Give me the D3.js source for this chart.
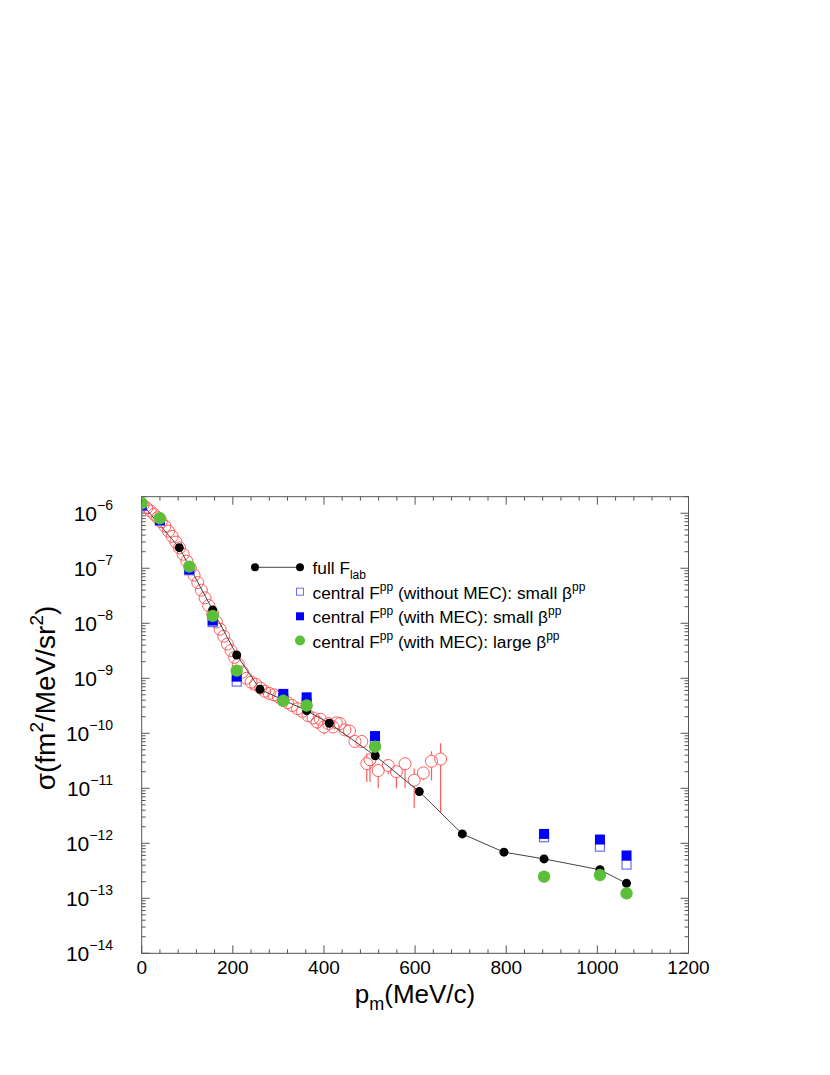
<!DOCTYPE html>
<html><head><meta charset="utf-8">
<script src="https://cdn.jsdelivr.net/npm/d3@7"></script>
<style>body{margin:0;background:#fff}svg{display:block}text{font-family:"Liberation Sans",Arial,Helvetica,sans-serif;fill:#000}</style>
</head><body><svg id="c" width="830" height="1075"></svg>
<script>
// ---- data ----
const xTickValues = [0, 200, 400, 600, 800, 1000, 1200];
const yDecades = [-14, -13, -12, -11, -10, -9, -8, -7, -6];

// experimental data (open red circles): p_m, sigma, lower, upper (null = no visible bar)
const dataP = [3,11,19,27,35,43,51,59,67,75,83,91,99,107,115,123,131,139,147,156,164,172,180,188,196,204,212,221,230,240,250,261,270,280,290,300,310,320,330,342,353,365,376,385,392,400,410,420,427,435,446,456,468,483,494,501,519,541,559,578,598,618,636,656];
const dataSigma = [1.40e-6,1.25e-6,1.10e-6,9.6e-7,8.3e-7,7.0e-7,5.8e-7,4.7e-7,3.8e-7,3.0e-7,2.35e-7,1.8e-7,1.35e-7,1.0e-7,7.5e-8,5.5e-8,4.0e-8,2.9e-8,2.1e-8,1.5e-8,1.05e-8,7.8e-9,5.8e-9,4.2e-9,3.2e-9,2.4e-9,1.8e-9,1.3e-9,1.0e-9,8.5e-10,7.8e-10,6.6e-10,5.8e-10,5.3e-10,5.0e-10,4.6e-10,4.0e-10,3.6e-10,3.2e-10,2.8e-10,2.5e-10,2.1e-10,1.9e-10,1.6e-10,1.8e-10,1.3e-10,1.5e-10,1.3e-10,1.55e-10,1.5e-10,1.15e-10,1.1e-10,7.1e-11,7.1e-11,2.8e-11,3.3e-11,2.1e-11,2.6e-11,2.0e-11,2.8e-11,1.4e-11,1.9e-11,3.1e-11,3.4e-11];
const dataLo = [null,null,null,null,null,null,null,null,null,null,null,null,null,null,null,null,null,null,null,null,null,null,null,null,null,null,null,null,null,6.0e-10,null,null,null,null,null,null,null,null,null,null,null,null,null,1.2e-10,null,9.5e-11,null,null,null,null,null,null,null,null,1.3e-11,1.3e-11,1.0e-11,1.8e-11,1.0e-11,1.0e-11,4.4e-12,1.4e-11,1.4e-11,3.7e-12];
const dataHi = [null,null,null,null,null,null,null,null,null,null,null,null,null,null,null,null,null,null,null,null,null,null,null,null,null,null,null,null,null,null,null,null,null,null,null,null,null,null,null,null,null,null,null,null,null,null,null,null,null,null,null,null,null,null,4.3e-11,null,2.8e-11,null,null,3.5e-11,2.3e-11,null,4.7e-11,6.6e-11];

// full F_lab (black, connected)
const fullP = [0, 82.5, 155.8, 208.5, 259.6, 362, 411.7, 512.6, 609.2, 703.6, 795, 883, 1005.7, 1064];
const fullSigma = [1.48e-6, 2.37e-7, 1.74e-8, 2.65e-9, 6.3e-10, 2.58e-10, 1.52e-10, 3.9e-11, 8.7e-12, 1.48e-12, 6.9e-13, 5.2e-13, 3.3e-13, 1.87e-13];

// central F^pp (without MEC): small beta (open blue squares)
const noMecP = [0, 40, 104.5, 155.8, 208.5, 310.8, 362, 512, 883, 1005.7, 1064];
const noMecSigma = [1.35e-6, 7.3e-7, 9.2e-8, 1.05e-8, 8.7e-10, 4.3e-10, 3.6e-10, 7.5e-11, 1.29e-12, 8.7e-13, 4.1e-13];

// central F^pp (with MEC): small beta (filled blue squares)
const mecSmallP = [0, 40, 104.5, 155.8, 208.5, 310.8, 362, 512, 883, 1005.7, 1064];
const mecSmallSigma = [1.4e-6, 7.5e-7, 9.5e-8, 1.12e-8, 1.07e-9, 5.2e-10, 4.5e-10, 8.9e-11, 1.48e-12, 1.17e-12, 6.0e-13];

// central F^pp (with MEC): large beta (green circles)
const mecLargeP = [0, 40, 104.5, 155.8, 208.5, 310.8, 362, 512, 883, 1005.7, 1064];
const mecLargeSigma = [1.52e-6, 8.1e-7, 1.07e-7, 1.36e-8, 1.38e-9, 3.9e-10, 3.2e-10, 5.7e-11, 2.47e-13, 2.65e-13, 1.23e-13];

// ---- drawing ----
const svg = d3.select("#c");
const L = 141.7, R = 688.5, T = 496.7, B = 953.3;
const x = d3.scaleLinear().domain([0, 1200]).range([L, R]);
const y = d3.scaleLog().domain([1e-14, 2e-6]).range([B, T]);

const axisColor = "#555";
const g = svg.append("g");

// frame
g.append("rect").attr("x", L).attr("y", T).attr("width", R - L).attr("height", B - T)
  .attr("fill", "none").attr("stroke", axisColor).attr("stroke-width", 1);

// x ticks (bottom & top, inward)
const xMinor = d3.range(0, 1201, 40);
xMinor.forEach(v => {
  const major = v % 200 === 0;
  const len = major ? 8 : 4;
  g.append("line").attr("x1", x(v)).attr("x2", x(v)).attr("y1", B).attr("y2", B - len).attr("stroke", axisColor);
  g.append("line").attr("x1", x(v)).attr("x2", x(v)).attr("y1", T).attr("y2", T + len).attr("stroke", axisColor);
});
// y ticks (left & right, inward)
const yMinor = [];
for (let e = -14; e <= -6; e++) for (let m = 1; m <= 9; m++) { const v = m * Math.pow(10, e); if (v <= 2.0001e-6) yMinor.push([v, m === 1]); }
yMinor.forEach(([v, major]) => {
  const len = major ? 8 : 4;
  g.append("line").attr("x1", L).attr("x2", L + len).attr("y1", y(v)).attr("y2", y(v)).attr("stroke", axisColor);
  g.append("line").attr("x1", R).attr("x2", R - len).attr("y1", y(v)).attr("y2", y(v)).attr("stroke", axisColor);
});

// x tick labels
xTickValues.forEach(v => {
  g.append("text").attr("x", x(v)).attr("y", 974).attr("text-anchor", "middle")
    .attr("font-size", 19).text(v);
});
// y tick labels
yDecades.forEach(e => {
  const t = g.append("text").attr("x", 113).attr("y", y(Math.pow(10, e)) + 8).attr("text-anchor", "end").attr("font-size", 21);
  t.append("tspan").text("10");
  t.append("tspan").attr("dy", -11).attr("font-size", 14).text("\u2212" + Math.abs(e));
});

// axis titles
const xt = g.append("text").attr("x", 415).attr("y", 1003).attr("text-anchor", "middle").attr("font-size", 26);
xt.append("tspan").text("p");
xt.append("tspan").attr("dy", 7).attr("font-size", 18).text("m");
xt.append("tspan").attr("dy", -7).text("(MeV/c)");

const yt = g.append("text").attr("transform", "translate(55,698) rotate(-90)").attr("text-anchor", "middle").attr("font-size", 28);
yt.append("tspan").text("\u03c3(fm");
yt.append("tspan").attr("dy", -12).attr("font-size", 19).text("2");
yt.append("tspan").attr("dy", 12).text("/MeV/sr");
yt.append("tspan").attr("dy", -12).attr("font-size", 19).text("2");
yt.append("tspan").attr("dy", 12).text(")");

// clip
svg.append("clipPath").attr("id", "clip").append("rect").attr("x", L).attr("y", T - 8).attr("width", R - L + 8).attr("height", B - T + 8);
const plot = svg.append("g").attr("clip-path", "url(#clip)");

const red = "#ff5c5c";
const rr = 6;
// data error bars (outside marker)
dataP.forEach((p, i) => {
  const cx = x(p), cy = y(dataSigma[i]);
  if (dataLo[i] !== null && y(dataLo[i]) > cy + rr)
    plot.append("line").attr("x1", cx).attr("x2", cx).attr("y1", cy + rr).attr("y2", y(dataLo[i])).attr("stroke", red).attr("stroke-width", 1.2);
  if (dataHi[i] !== null && y(dataHi[i]) < cy - rr)
    plot.append("line").attr("x1", cx).attr("x2", cx).attr("y1", cy - rr).attr("y2", y(dataHi[i])).attr("stroke", red).attr("stroke-width", 1.2);
});
plot.selectAll("circle.data").data(dataP).enter().append("circle")
  .attr("cx", d => x(d)).attr("cy", (d, i) => y(dataSigma[i])).attr("r", rr)
  .attr("fill", "none").attr("stroke", red).attr("stroke-width", 1);

// full F_lab line + points
const line = d3.line().x(d => x(d[0])).y(d => y(d[1]));
plot.append("path").attr("d", line(fullP.map((p, i) => [p, fullSigma[i]])))
  .attr("fill", "none").attr("stroke", "#444").attr("stroke-width", 1);
plot.selectAll("circle.full").data(fullP).enter().append("circle")
  .attr("cx", d => x(d)).attr("cy", (d, i) => y(fullSigma[i])).attr("r", 4.5).attr("fill", "#000");

// open squares
const sq = 10;
plot.selectAll("rect.nomec").data(noMecP).enter().append("rect")
  .attr("x", d => x(d) - sq / 2 + 0.5).attr("y", (d, i) => y(noMecSigma[i]) - sq / 2 + 0.5)
  .attr("width", sq - 1).attr("height", sq - 1).attr("fill", "#fff").attr("stroke", "#6a6aff").attr("stroke-width", 1.2);
// filled squares
plot.selectAll("rect.mec").data(mecSmallP).enter().append("rect")
  .attr("x", d => x(d) - sq / 2).attr("y", (d, i) => y(mecSmallSigma[i]) - sq / 2)
  .attr("width", sq).attr("height", sq).attr("fill", "#0000ff");
// green circles
plot.selectAll("circle.large").data(mecLargeP).enter().append("circle")
  .attr("cx", d => x(d)).attr("cy", (d, i) => y(mecLargeSigma[i])).attr("r", 6.2).attr("fill", "#5bbf3a");

// legend
const lg = svg.append("g");
const lx = 312.5, fs = 17.3;
const rows = [567.3, 591.7, 616.3, 640.5];
lg.append("line").attr("x1", 255).attr("x2", 300).attr("y1", rows[0]).attr("y2", rows[0]).attr("stroke", "#444");
[255, 300].forEach(cx => lg.append("circle").attr("cx", cx).attr("cy", rows[0]).attr("r", 4).attr("fill", "#000"));
lg.append("rect").attr("x", 296.5).attr("y", rows[1] - 3.5).attr("width", 7).attr("height", 7).attr("fill", "#fff").attr("stroke", "#6a6aff");
lg.append("rect").attr("x", 296).attr("y", rows[2] - 4).attr("width", 8).attr("height", 8).attr("fill", "#0000ff");
lg.append("circle").attr("cx", 300).attr("cy", rows[3]).attr("r", 5).attr("fill", "#5bbf3a");

function legendText(yy, parts) {
  const t = lg.append("text").attr("x", lx).attr("y", yy + 7).attr("font-size", fs);
  parts.forEach(p => {
    const s = t.append("tspan").text(p.t);
    if (p.sub) s.attr("dy", 5).attr("font-size", 12);
    if (p.sup) s.attr("dy", -8).attr("font-size", 12);
    if (p.back) s.attr("dy", p.back);
  });
}
legendText(rows[0], [{t: "full F"}, {t: "lab", sub: true}]);
legendText(rows[1], [{t: "central F"}, {t: "pp", sup: true}, {t: " (without MEC): small \u03b2", back: 8}, {t: "pp", sup: true}]);
legendText(rows[2], [{t: "central F"}, {t: "pp", sup: true}, {t: " (with MEC): small \u03b2", back: 8}, {t: "pp", sup: true}]);
legendText(rows[3], [{t: "central F"}, {t: "pp", sup: true}, {t: " (with MEC): large \u03b2", back: 8}, {t: "pp", sup: true}]);
</script>
</body></html>
